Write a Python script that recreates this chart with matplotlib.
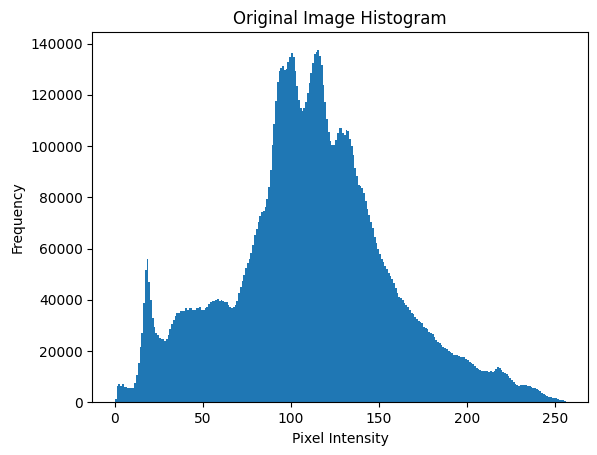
import numpy as np
import matplotlib
matplotlib.use("Agg")
import matplotlib.pyplot as plt

intensity = list(range(256))
counts = [
    1300, 6400, 7200, 6400, 7200, 6000, 6000, 5500, 5700, 5700,
    5700, 7600, 10600, 15200, 21400, 27200, 38700, 51700, 55900, 47100,
    39900, 32800, 29300, 26900, 26200, 25300, 24900, 24900, 24000, 24600,
    26200, 28500, 30600, 32100, 33700, 34900, 34900, 35800, 35700, 35700,
    36900, 36100, 36900, 36700, 36100, 36100, 36700, 36700, 37400, 36100,
    36100, 36700, 37300, 38300, 39000, 39600, 39600, 39900, 40300, 39600,
    39900, 39500, 39000, 39000, 38000, 37400, 37000, 37400, 38000, 39600,
    42800, 44900, 47400, 49700, 52400, 54300, 55900, 58200, 61400, 65400,
    67700, 70500, 72700, 74400, 74800, 76200, 79300, 84000, 90700, 100500,
    108700, 117800, 124900, 129200, 130400, 131300, 129800, 130300, 133000, 135000,
    136300, 135000, 129200, 123600, 118100, 114800, 113900, 114800, 117400, 120900,
    124600, 128500, 132400, 136000, 136600, 137600, 135300, 131700, 123900, 117400,
    110700, 105700, 102000, 100500, 100500, 102400, 105300, 107000, 107000, 105300,
    104200, 106400, 106100, 102800, 99900, 96400, 91400, 88400, 84800, 84400,
    83600, 81900, 78800, 75500, 73100, 70500, 68000, 64700, 62100, 59700,
    57800, 55900, 54600, 53300, 52000, 50400, 49500, 48000, 46500, 44500,
    42500, 41000, 40600, 39900, 38900, 38000, 37100, 36100, 34800, 34400,
    33200, 32400, 31900, 31300, 30800, 29500, 28900, 28600, 27600, 26900,
    26500, 25600, 24500, 23700, 23100, 22400, 21500, 21100, 20700, 20200,
    19800, 19400, 18500, 18500, 18500, 18100, 17700, 17600, 17600, 17000,
    16400, 15900, 15200, 14800, 14200, 13200, 12900, 12500, 12200, 12100,
    12100, 12200, 11900, 12300, 11900, 12300, 13000, 13600, 13200, 12600,
    11900, 11300, 10900, 10200, 9300, 8800, 7800, 7200, 6800, 6500,
    6800, 6900, 6900, 6800, 6400, 6400, 6000, 5700, 5500, 5100,
    4800, 4600, 3500, 3100, 2900, 2500, 2200, 1900, 1700, 1700,
    1700, 1100, 900, 900, 900, 600,
]
bin_edges = list(range(257))

fig = plt.figure(figsize=(5.97, 4.55), dpi=100)
ax = fig.add_axes([92.3 / 597, 52.7 / 455, 496 / 597, 370 / 455])
ax.hist(intensity, bins=bin_edges, weights=counts, color="#1f77b4")
ax.set_title("Original Image Histogram")
ax.set_xlabel("Pixel Intensity")
ax.set_ylabel("Frequency")
fig.savefig("out.png", dpi=100)
